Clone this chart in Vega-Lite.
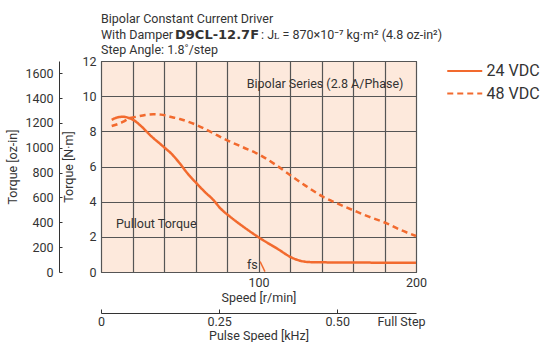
{
  "$schema": "https://vega.github.io/schema/vega-lite/v6.json",
  "autosize": "none",
  "width": 315,
  "height": 211,
  "padding": {"left": 101, "top": 61, "right": 127, "bottom": 70},
  "background": "white",
  "config": {
    "font": "Roboto",
    "view": {"fill": "#fde9dc", "stroke": "#333", "strokeWidth": 1},
    "axis": {"labelFont": "Roboto", "titleFont": "Roboto", "labelFontSize": 12.5, "titleFontSize": 12.5, "titleFontWeight": "normal", "labelColor": "#333", "titleColor": "#333"},
    "text": {"font": "Roboto", "fontSize": 12.5, "color": "#333"}
  },
  "datasets": {
    "curves": [
      {"speed": 6.8, "torque": 8.65, "series": "24 VDC"},
      {"speed": 10, "torque": 8.78, "series": "24 VDC"},
      {"speed": 14.2, "torque": 8.83, "series": "24 VDC"},
      {"speed": 17, "torque": 8.78, "series": "24 VDC"},
      {"speed": 20.5, "torque": 8.65, "series": "24 VDC"},
      {"speed": 26, "torque": 8.25, "series": "24 VDC"},
      {"speed": 31, "torque": 7.8, "series": "24 VDC"},
      {"speed": 39.6, "torque": 7.13, "series": "24 VDC"},
      {"speed": 45, "torque": 6.7, "series": "24 VDC"},
      {"speed": 50, "torque": 6.18, "series": "24 VDC"},
      {"speed": 55, "torque": 5.6, "series": "24 VDC"},
      {"speed": 60.7, "torque": 5.04, "series": "24 VDC"},
      {"speed": 66, "torque": 4.55, "series": "24 VDC"},
      {"speed": 71.3, "torque": 4.1, "series": "24 VDC"},
      {"speed": 76, "torque": 3.6, "series": "24 VDC"},
      {"speed": 81.9, "torque": 3.15, "series": "24 VDC"},
      {"speed": 90, "torque": 2.6, "series": "24 VDC"},
      {"speed": 101, "torque": 1.92, "series": "24 VDC"},
      {"speed": 111.5, "torque": 1.35, "series": "24 VDC"},
      {"speed": 122, "torque": 0.78, "series": "24 VDC"},
      {"speed": 127, "torque": 0.63, "series": "24 VDC"},
      {"speed": 131, "torque": 0.57, "series": "24 VDC"},
      {"speed": 140, "torque": 0.55, "series": "24 VDC"},
      {"speed": 160, "torque": 0.54, "series": "24 VDC"},
      {"speed": 180, "torque": 0.53, "series": "24 VDC"},
      {"speed": 200, "torque": 0.53, "series": "24 VDC"},
      {"speed": 6.8, "torque": 8.3, "series": "48 VDC"},
      {"speed": 14.2, "torque": 8.55, "series": "48 VDC"},
      {"speed": 18, "torque": 8.75, "series": "48 VDC"},
      {"speed": 22.6, "torque": 8.83, "series": "48 VDC"},
      {"speed": 28, "torque": 8.93, "series": "48 VDC"},
      {"speed": 33.2, "torque": 8.97, "series": "48 VDC"},
      {"speed": 38, "torque": 8.95, "series": "48 VDC"},
      {"speed": 43.8, "torque": 8.83, "series": "48 VDC"},
      {"speed": 50, "torque": 8.7, "series": "48 VDC"},
      {"speed": 60.7, "torque": 8.36, "series": "48 VDC"},
      {"speed": 70, "torque": 7.95, "series": "48 VDC"},
      {"speed": 79.8, "torque": 7.5, "series": "48 VDC"},
      {"speed": 90, "torque": 7.1, "series": "48 VDC"},
      {"speed": 101, "torque": 6.65, "series": "48 VDC"},
      {"speed": 110, "torque": 6.15, "series": "48 VDC"},
      {"speed": 120, "torque": 5.52, "series": "48 VDC"},
      {"speed": 130, "torque": 4.9, "series": "48 VDC"},
      {"speed": 141, "torque": 4.28, "series": "48 VDC"},
      {"speed": 150, "torque": 3.9, "series": "48 VDC"},
      {"speed": 162.3, "torque": 3.43, "series": "48 VDC"},
      {"speed": 170, "torque": 3.15, "series": "48 VDC"},
      {"speed": 181.4, "torque": 2.77, "series": "48 VDC"},
      {"speed": 190, "torque": 2.4, "series": "48 VDC"},
      {"speed": 200, "torque": 2.05, "series": "48 VDC"}
    ],
    "fsline": [
      {"speed": 101, "torque": 0.6},
      {"speed": 104.1, "torque": 0.02}
    ],
    "notesRight": [
      {"label": "Bipolar Series (2.8 A/Phase)", "speed": 192, "torque": 10.68},
      {"label": "fs", "speed": 99.5, "torque": 0.4}
    ],
    "notesLeft": [
      {"label": "Pullout Torque", "speed": 9.5, "torque": 2.73}
    ],
    "one": [{}],
    "ozin": [{"oz": 0}, {"oz": 1699.2}],
    "khz": [{"khz": 0}, {"khz": 0.6667}]
  },
  "layer": [
    {
      "resolve": {"scale": {"x": "shared", "y": "shared"}, "axis": {"x": "shared", "y": "shared"}},
      "layer": [
        {
          "data": {"name": "curves"},
          "mark": {"type": "line", "strokeWidth": 2.5, "interpolate": "monotone"},
          "encoding": {
            "x": {"field": "speed", "type": "quantitative",
              "scale": {"domain": [0, 200], "nice": false, "zero": false},
              "axis": {"values": [0, 20, 40, 60, 80, 100, 120, 140, 160, 180, 200], "grid": true, "gridColor": "#555", "gridWidth": 1.2, "domain": false, "ticks": false, "labelExpr": "datum.value == 100 || datum.value == 200 ? datum.label : ''", "labelFlush": false, "labelOverlap": false, "labelPadding": 4, "title": "Speed [r/min]", "titlePadding": 3}},
            "y": {"field": "torque", "type": "quantitative",
              "scale": {"domain": [0, 12], "nice": false},
              "axis": {"values": [0, 2, 4, 6, 8, 10, 12], "grid": true, "gridColor": "#555", "gridWidth": 1.2, "domain": false, "ticks": false, "labelPadding": 5, "labelOverlap": false, "title": "Torque [N·m]", "titlePadding": 6}},
            "color": {"field": "series", "type": "nominal", "title": null,
              "scale": {"domain": ["24 VDC", "48 VDC"], "range": ["#f26a2e", "#f26a2e"]},
              "legend": {"orient": "none", "legendX": 345, "legendY": 0, "symbolType": "M-1,0L3,0", "symbolSize": 306, "symbolStrokeWidth": 2, "labelFontSize": 16, "labelFont": "Roboto", "labelColor": "#333", "rowPadding": 4.5, "labelOffset": 20.5}},
            "strokeDash": {"field": "series", "type": "nominal", "title": null,
              "scale": {"domain": ["24 VDC", "48 VDC"], "range": [[1, 0], [6, 4]]}}
          }
        },
        {
          "data": {"name": "fsline"},
          "mark": {"type": "line", "color": "#f26a2e", "strokeWidth": 1.5},
          "encoding": {
            "x": {"field": "speed", "type": "quantitative",
              "axis": {"values": [0, 20, 40, 60, 80, 100, 120, 140, 160, 180, 200], "grid": true, "gridColor": "#555", "gridWidth": 1.2, "domain": false, "ticks": false, "labelExpr": "datum.value == 100 || datum.value == 200 ? datum.label : ''", "labelFlush": false, "labelOverlap": false, "labelPadding": 4, "title": "Speed [r/min]", "titlePadding": 3}},
            "y": {"field": "torque", "type": "quantitative",
              "axis": {"values": [0, 2, 4, 6, 8, 10, 12], "grid": true, "gridColor": "#555", "gridWidth": 1.2, "domain": false, "ticks": false, "labelPadding": 5, "labelOverlap": false, "title": "Torque [N·m]", "titlePadding": 6}}
          }
        },
        {
          "data": {"name": "notesRight"},
          "mark": {"type": "text", "baseline": "middle", "align": "right"},
          "encoding": {
            "x": {"field": "speed", "type": "quantitative",
              "axis": {"values": [0, 20, 40, 60, 80, 100, 120, 140, 160, 180, 200], "grid": true, "gridColor": "#555", "gridWidth": 1.2, "domain": false, "ticks": false, "labelExpr": "datum.value == 100 || datum.value == 200 ? datum.label : ''", "labelFlush": false, "labelOverlap": false, "labelPadding": 4, "title": "Speed [r/min]", "titlePadding": 3}},
            "y": {"field": "torque", "type": "quantitative",
              "axis": {"values": [0, 2, 4, 6, 8, 10, 12], "grid": true, "gridColor": "#555", "gridWidth": 1.2, "domain": false, "ticks": false, "labelPadding": 5, "labelOverlap": false, "title": "Torque [N·m]", "titlePadding": 6}},
            "text": {"field": "label"}
          }
        },
        {
          "data": {"name": "notesLeft"},
          "mark": {"type": "text", "baseline": "middle", "align": "left"},
          "encoding": {
            "x": {"field": "speed", "type": "quantitative",
              "axis": {"values": [0, 20, 40, 60, 80, 100, 120, 140, 160, 180, 200], "grid": true, "gridColor": "#555", "gridWidth": 1.2, "domain": false, "ticks": false, "labelExpr": "datum.value == 100 || datum.value == 200 ? datum.label : ''", "labelFlush": false, "labelOverlap": false, "labelPadding": 4, "title": "Speed [r/min]", "titlePadding": 3}},
            "y": {"field": "torque", "type": "quantitative",
              "axis": {"values": [0, 2, 4, 6, 8, 10, 12], "grid": true, "gridColor": "#555", "gridWidth": 1.2, "domain": false, "ticks": false, "labelPadding": 5, "labelOverlap": false, "title": "Torque [N·m]", "titlePadding": 6}},
            "text": {"field": "label"}
          }
        },
        {
          "data": {"name": "one"},
          "layer": [
            {"mark": {"type": "text", "align": "left", "baseline": "alphabetic", "dy": -38, "text": "Bipolar Constant Current Driver"}},
            {"mark": {"type": "text", "align": "left", "baseline": "alphabetic", "dy": -22, "text": "With Damper"}},
            {"mark": {"type": "text", "align": "left", "baseline": "alphabetic", "dy": -22, "dx": 74, "fontWeight": "bold", "font": "DejaVu Sans", "fontSize": 13, "text": "D9CL-12.7F"}},
            {"mark": {"type": "text", "align": "left", "baseline": "alphabetic", "dy": -22, "dx": 160, "text": ": Jʟ = 870×10⁻⁷ kg·m² (4.8 oz-in²)"}},
            {"mark": {"type": "text", "align": "left", "baseline": "alphabetic", "dy": -7, "text": "Step Angle: 1.8˚/step"}}
          ],
          "encoding": {
            "x": {"datum": 0, "type": "quantitative",
              "axis": {"values": [0, 20, 40, 60, 80, 100, 120, 140, 160, 180, 200], "grid": true, "gridColor": "#555", "gridWidth": 1.2, "domain": false, "ticks": false, "labelExpr": "datum.value == 100 || datum.value == 200 ? datum.label : ''", "labelFlush": false, "labelOverlap": false, "labelPadding": 4, "title": "Speed [r/min]", "titlePadding": 3}},
            "y": {"datum": 12, "type": "quantitative",
              "axis": {"values": [0, 2, 4, 6, 8, 10, 12], "grid": true, "gridColor": "#555", "gridWidth": 1.2, "domain": false, "ticks": false, "labelPadding": 5, "labelOverlap": false, "title": "Torque [N·m]", "titlePadding": 6}}
          }
        }
      ]
    },
    {
      "data": {"name": "ozin"},
      "mark": {"type": "rule", "opacity": 0},
      "encoding": {
        "y": {"field": "oz", "type": "quantitative",
          "scale": {"domain": [0, 1699.2], "nice": false},
          "axis": {"orient": "left", "offset": 42, "values": [0, 200, 400, 600, 800, 1000, 1200, 1400, 1600], "format": "d", "grid": false, "domain": true, "domainColor": "#333", "tickColor": "#333", "tickSize": -3, "labelPadding": 9, "labelOverlap": false,
            "title": "Torque [oz-in]", "titlePadding": 5}}
      }
    },
    {
      "data": {"name": "khz"},
      "mark": {"type": "rule", "opacity": 0},
      "encoding": {
        "x": {"field": "khz", "type": "quantitative",
          "scale": {"domain": [0, 0.6667], "nice": false, "zero": false},
          "axis": {"orient": "bottom", "offset": 41, "values": [0, 0.25, 0.5, 0.635], "grid": false, "domain": true, "domainColor": "#333", "tickColor": "#333", "tickSize": -4, "labelPadding": 6,
            "tickOpacity": {"condition": {"test": "datum.value > 0.6", "value": 0}, "value": 1},
            "labelExpr": "datum.value > 0.6 ? 'Full Step' : (datum.value == 0 ? '0' : format(datum.value, '.2f'))", "labelFlush": false, "labelOverlap": false,
            "title": "Pulse Speed [kHz]", "titlePadding": 2}}
      }
    }
  ],
  "resolve": {"scale": {"x": "independent", "y": "independent"}}
}
